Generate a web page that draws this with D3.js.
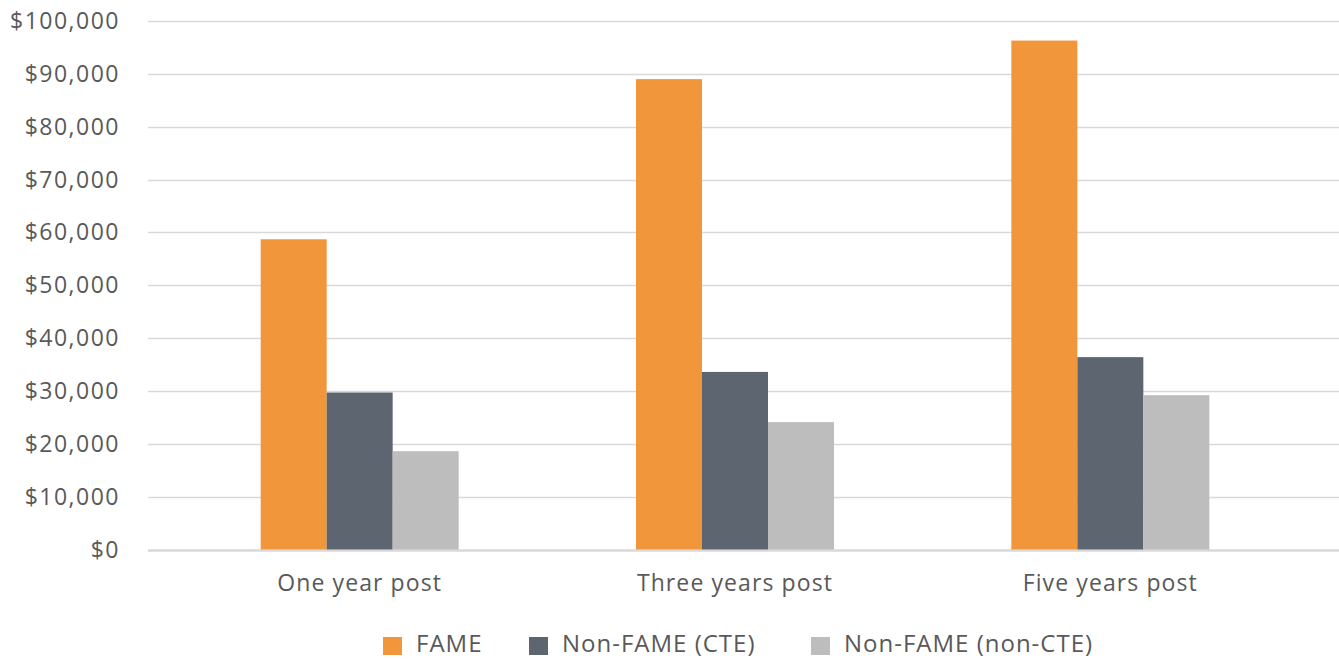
<!DOCTYPE html>
<html>
<head>
<meta charset="utf-8">
<script src="https://cdn.jsdelivr.net/npm/d3@7"></script>
<style>
  body { margin: 0; background: #fff; }
  svg { display: block; font-family: "Open Sans", "Noto Sans", sans-serif; }
</style>
</head>
<body>
<svg id="chart"></svg>
<script>
// data
var categories = ["One year post", "Three years post", "Five years post"];
var seriesNames = ["FAME", "Non-FAME (CTE)", "Non-FAME (non-CTE)"];
var fame = [58700, 89000, 96300];
var nonFameCte = [29700, 33600, 36400];
var nonFameNonCte = [18600, 24100, 29200];
var yTicks = [0, 10000, 20000, 30000, 40000, 50000, 60000, 70000, 80000, 90000, 100000];

var colors = ["#F2963C", "#5D6670", "#BDBDBD"];
var seriesValues = [fame, nonFameCte, nonFameNonCte];

var width = 1339,
    height = 659;

var svg = d3.select("#chart")
    .attr("width", width)
    .attr("height", height);

var y = d3.scaleLinear()
    .domain([0, 100000])
    .range([549.5, 21]);

var x0 = d3.scaleBand()
    .domain(categories)
    .range([172, 1298])
    .padding(0);

var groupWidth = 198;
var x1 = d3.scaleBand()
    .domain(seriesNames)
    .range([0, groupWidth]);

var fmt = function(d) { return "$" + d3.format(",")(d); };

// gridlines
svg.append("g")
    .selectAll("line")
    .data(yTicks)
    .enter()
    .append("line")
    .attr("x1", 148)
    .attr("x2", width)
    .attr("y1", function(d) { return Math.round(y(d)) + 0.5; })
    .attr("y2", function(d) { return Math.round(y(d)) + 0.5; })
    .attr("stroke", "#D9D9D9")
    .attr("stroke-width", function(d) { return d === 0 ? 2.5 : 1.3; });

// y labels
svg.append("g")
    .selectAll("text")
    .data(yTicks)
    .enter()
    .append("text")
    .attr("x", 120)
    .attr("y", function(d) { return y(d); })
    .attr("dy", "0.35em")
    .attr("text-anchor", "end")
    .attr("fill", "#595959")
    .style("font-size", "23px")
    .style("letter-spacing", "1.5px")
    .text(fmt);

// bars
var groups = svg.append("g")
    .selectAll("g")
    .data(categories)
    .enter()
    .append("g")
    .attr("transform", function(c) {
        return "translate(" + (x0(c) + (x0.bandwidth() - groupWidth) / 2) + ",0)";
    });

groups.selectAll("rect")
    .data(function(c, i) {
        return seriesNames.map(function(s, j) {
            return { series: s, value: seriesValues[j][i], color: colors[j] };
        });
    })
    .enter()
    .append("rect")
    .attr("x", function(d) { return x1(d.series); })
    .attr("width", x1.bandwidth())
    .attr("y", function(d) { return y(d.value); })
    .attr("height", function(d) { return y(0) - y(d.value); })
    .attr("fill", function(d) { return d.color; });

// category labels
svg.append("g")
    .selectAll("text")
    .data(categories)
    .enter()
    .append("text")
    .attr("x", function(c) { return x0(c) + x0.bandwidth() / 2; })
    .attr("y", 591)
    .attr("text-anchor", "middle")
    .attr("fill", "#595959")
    .style("font-size", "23px")
    .style("letter-spacing", "1.1px")
    .text(function(c) { return c; });

// legend
var legendX = [383, 529, 811];
var legend = svg.append("g")
    .selectAll("g")
    .data(seriesNames)
    .enter()
    .append("g")
    .attr("transform", function(d, i) { return "translate(" + legendX[i] + ",0)"; });

legend.append("rect")
    .attr("y", 637)
    .attr("width", 19)
    .attr("height", 18)
    .attr("fill", function(d, i) { return colors[i]; });

legend.append("text")
    .attr("x", 33)
    .attr("y", 652)
    .attr("fill", "#595959")
    .style("font-size", "24px")
    .style("letter-spacing", "1px")
    .text(function(d) { return d; });
</script>
</body>
</html>
